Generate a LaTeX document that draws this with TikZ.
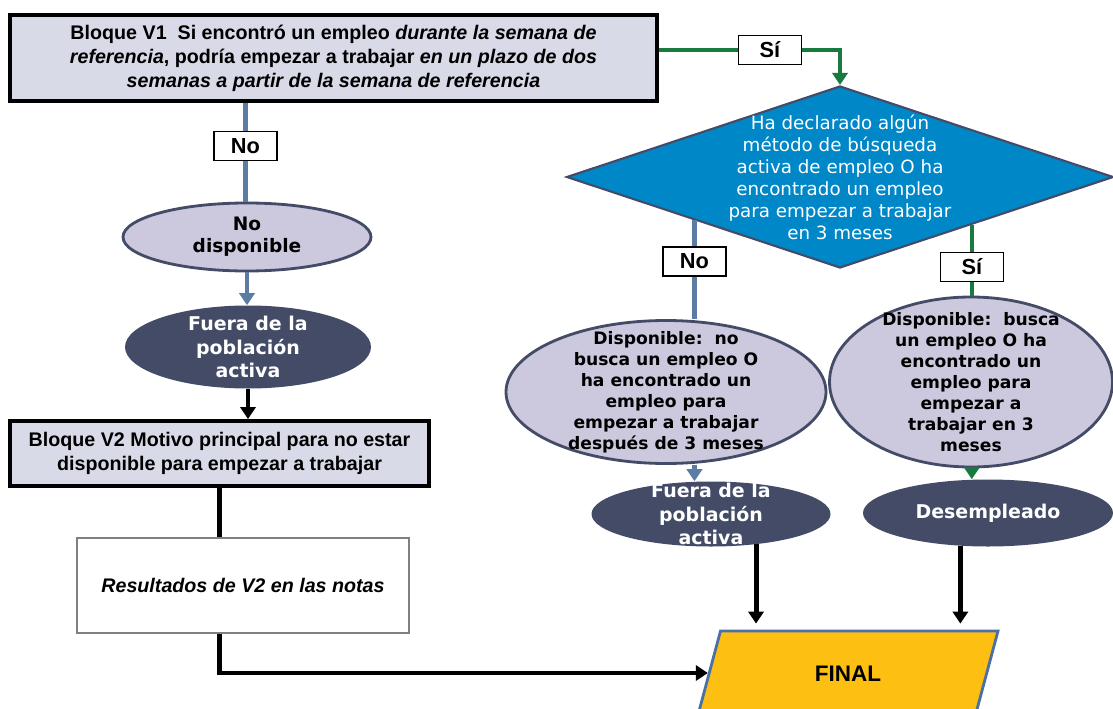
\documentclass[tikz,border=0pt]{standalone}
\usepackage{fontspec}
\setmainfont{Liberation Sans}
\newfontfamily\ovalfont{DejaVu Sans}
\usepackage{xcolor}
\usetikzlibrary{shapes.geometric, arrows.meta, calc}

\definecolor{lila}{RGB}{217,218,232}
\definecolor{lilaoval}{RGB}{204,200,221}
\definecolor{pizarra}{RGB}{67,75,103}
\definecolor{azuldiam}{RGB}{0,135,200}
\definecolor{grisazul}{RGB}{93,124,163}
\definecolor{verdeosc}{RGB}{24,122,62}
\definecolor{amarillo}{RGB}{253,192,18}
\definecolor{bordefinal}{RGB}{74,112,168}

\tikzset{
  bloque/.style={draw=black, line width=2.8pt, fill=lila, align=center, inner sep=0pt,
    font=\bfseries\fontsize{14}{17}\selectfont},
  etiqueta/.style={draw=black, line width=1pt, fill=white, inner sep=0pt,
    minimum width=1.575cm, minimum height=0.73cm, font=\bfseries\fontsize{15.5}{18}\selectfont},
  ovalclaro/.style={ellipse, draw=pizarra, line width=2pt, fill=lilaoval, inner sep=0pt},
  ovaloscuro/.style={ellipse, fill=pizarra, inner sep=0pt},
  txtclaro/.style={align=center, text=black, font=\ovalfont\bfseries\fontsize{12.2}{15}\selectfont},
  txtoscuro/.style={align=center, text=white, font=\ovalfont\bfseries\fontsize{13.5}{16.8}\selectfont},
  txtrombo/.style={align=center, text=white, font=\ovalfont\fontsize{13}{15.6}\selectfont},
  azul/.style={draw=grisazul, line width=3.5pt},
  verde/.style={draw=verdeosc, line width=3.2pt},
  negro/.style={draw=black, line width=3.5pt},
  punta/.style={-{Triangle[length=0.3cm, width=0.38cm]}},
}

\begin{document}
\begin{tikzpicture}
    \useasboundingbox (0,0) rectangle (27.825,-17.725);

    % Bloque V1
    \node[bloque, minimum width=16.175cm, minimum height=2.15cm] (v1) at (8.3375,-1.45)
      {Bloque V1\ \ Si encontró un empleo \textit{durante la semana de}\\
       \textit{referencia}, podría empezar a trabajar \textit{en un plazo de dos}\\
       \textit{semanas a partir de la semana de referencia}};

    % Rama izquierda
    \node[etiqueta] (no1) at (6.1375,-3.65) {No};
    \node[ovalclaro, minimum width=6.2cm, minimum height=1.7cm,
      label={[txtclaro, font=\ovalfont\bfseries\fontsize{13.2}{15.6}\selectfont]center:{No\\disponible}}]
      (nodisp) at (6.175,-5.925) {};
    \node[ovaloscuro, minimum width=6.15cm, minimum height=2.075cm,
      label={[txtoscuro]center:{Fuera de la\\población\\activa}}] (fuera1) at (6.2,-8.675) {};
    \node[bloque, minimum width=10.475cm, minimum height=1.625cm] (v2) at (5.4875,-11.3375)
      {Bloque V2 Motivo principal para no estar\\disponible para empezar a trabajar};
    \node[draw=gray, line width=0.8pt, minimum width=8.3cm, minimum height=2.375cm,
      font=\bfseries\itshape\fontsize{14}{17}\selectfont] (res) at (6.075,-14.6375)
      {Resultados de V2 en las notas};

    \draw[azul] (v1.south -| no1) -- (no1.north);
    \draw[azul] (no1.south) -- (no1.south |- nodisp.north);
    \draw[azul, punta] (nodisp.south) -- (nodisp.south |- fuera1.north);
    \draw[negro, punta] (fuera1.south) -- (fuera1.south |- v2.north);
    \draw[negro] (v2.south) -- (v2.south |- res.north);

    % Rombo
    \node[diamond, draw=pizarra, line width=1.5pt, fill=azuldiam, inner sep=0pt,
      minimum width=13.675cm, minimum height=4.55cm,
      label={[txtrombo]center:{Ha declarado algún\\método de búsqueda\\activa de empleo O ha\\encontrado un empleo\\para empezar a trabajar\\en 3 meses}}]
      (busq) at (21,-4.425) {};
    \coordinate (izq) at ($(busq.west)!0.47!(busq.south)$);
    \coordinate (der) at ($(busq.south)!0.48!(busq.east)$);

    \node[etiqueta] (si1) at (19.25,-1.25) {Sí};
    \draw[verde] (v1.east |- si1) -- (si1.west);
    \draw[verde, punta] (si1.east) -| (busq.north);

    % Rama derecha
    \node[etiqueta] (no2) at (izq |- 0,-6.5375) {No};
    \node[etiqueta] (si2) at (der |- 0,-6.675) {Sí};
    \node[ovalclaro, minimum width=8cm, minimum height=3.575cm,
      label={[txtclaro]center:{Disponible:\ \ no\\busca un empleo O\\ha encontrado un\\empleo para\\empezar a trabajar\\después de 3 meses}}]
      (dispno) at (16.65,-9.8) {};
    \node[ovalclaro, minimum width=7.075cm, minimum height=4.25cm,
      label={[txtclaro]center:{Disponible:\ \ busca\\un empleo O ha\\encontrado un\\empleo para\\empezar a\\trabajar en 3\\meses}}]
      (dispsi) at (24.275,-9.55) {};
    \node[ovaloscuro, minimum width=5.975cm, minimum height=1.625cm,
      label={[txtoscuro]center:{Fuera de la\\población\\activa}}] (fuera2) at (17.775,-12.85) {};
    \node[ovaloscuro, minimum width=6.25cm, minimum height=1.675cm,
      label={[txtoscuro]center:{Desempleado}}] (deso) at (24.7,-12.825) {};

    \draw[azul] (izq) -- (no2.north);
    \draw[azul] (no2.south) -- (no2.south |- dispno.north);
    \draw[azul, punta] (izq |- dispno.south) -- (izq |- fuera2.north);
    \draw[verde] (der) -- (si2.north);
    \draw[verde] (si2.south) -- (si2.south |- dispsi.north);
    \draw[verde, punta] (der |- dispsi.south) -- (der |- deso.north);

    % Final
    \node[trapezium, trapezium left angle=75, trapezium right angle=105, trapezium stretches body,
      draw=bordefinal, line width=2pt, fill=amarillo, inner sep=0pt, minimum width=7.5cm,
      text height=1.25cm, text depth=0.85cm,
      font=\bfseries\fontsize{16}{19}\selectfont] (final) at (21.2,-16.825) {FINAL};
    \draw[negro, punta, shorten >=0.15cm] (fuera2.-34) -- (fuera2.-34 |- final.north);
    \draw[negro, punta, shorten >=0.15cm] (deso.-130) -- (deso.-130 |- final.north);
    \draw[negro, punta] (v2.south |- res.south) |- (final.west);
\end{tikzpicture}
\end{document}
